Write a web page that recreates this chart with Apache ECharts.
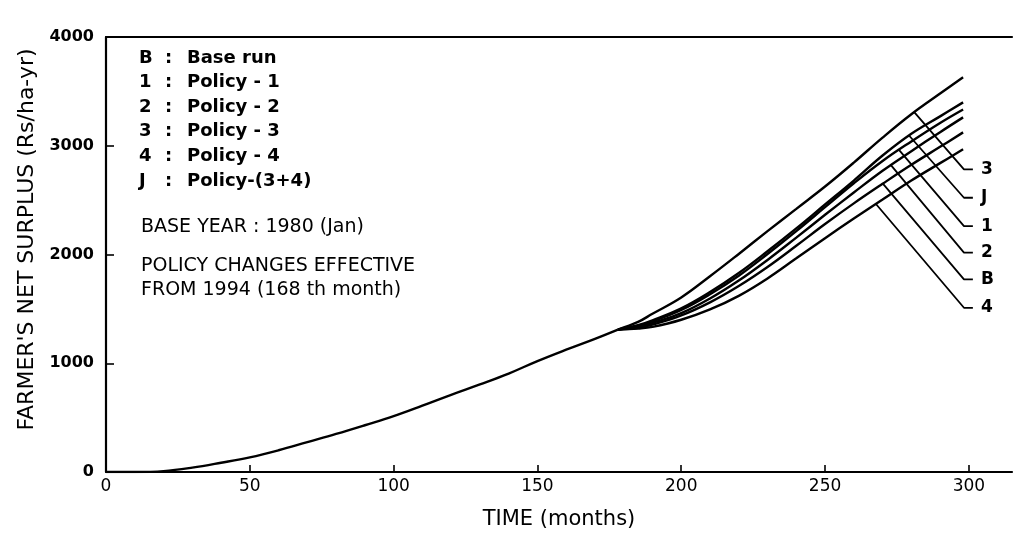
<!DOCTYPE html>
<html>
<head>
<meta charset="utf-8">
<script src="https://cdn.jsdelivr.net/npm/echarts@6/dist/echarts.min.js"></script>
<style>
  html, body { margin: 0; padding: 0; background: #fff; }
  #chart { width: 1017px; height: 535px; }
</style>
</head>
<body>
<div id="chart"></div>
<script>
// ---- data ----
const commonMonths = [0, 10, 20, 30, 40, 50, 60, 70, 80, 90, 100, 110, 120, 130, 140, 150, 160, 170, 178];
const commonValues = [0, 0, 8, 40, 85, 135, 200, 275, 350, 430, 513, 610, 710, 805, 905, 1020, 1125, 1225, 1310];

const branchMonths = [178, 185, 190, 200, 210, 220, 230, 240, 250, 260, 270, 280, 290, 298];
const policy3  = [1310, 1380, 1455, 1605, 1800, 2005, 2215, 2420, 2625, 2845, 3075, 3290, 3480, 3630];
const policyJ  = [1310, 1350, 1395, 1505, 1655, 1830, 2030, 2240, 2460, 2680, 2910, 3110, 3270, 3399];
const policy1  = [1310, 1345, 1385, 1490, 1635, 1805, 2005, 2215, 2435, 2655, 2860, 3040, 3210, 3334];
const policy2  = [1310, 1335, 1370, 1460, 1595, 1760, 1950, 2155, 2365, 2570, 2770, 2950, 3125, 3261];
const baseRun  = [1310, 1325, 1355, 1440, 1560, 1710, 1885, 2080, 2280, 2470, 2650, 2825, 2990, 3123];
const policy4  = [1310, 1320, 1335, 1400, 1495, 1620, 1780, 1965, 2150, 2330, 2505, 2680, 2840, 2967];

// curve labels (top to bottom) and their leader lines
const curveLabels      = ['3', 'J', '1', '2', 'B', '4'];
const curveData        = [policy3, policyJ, policy1, policy2, baseRun, policy4];
const leaderStartMonth = [281.0, 279.2, 275.7, 272.9, 270.1, 267.7];
const leaderEndValue   = [2783, 2522, 2261, 2017, 1771, 1510];
const leaderEndMonth   = 298.3;
const leaderTickMonth  = 301.4;

const xTicks = [0, 50, 100, 150, 200, 250, 300];

const legendKeys  = ['B', '1', '2', '3', '4', 'J'];
const legendDescs = ['Base run', 'Policy - 1', 'Policy - 2', 'Policy - 3', 'Policy - 4', 'Policy-(3+4)'];
const noteLines   = ['BASE YEAR : 1980 (Jan)', 'POLICY CHANGES EFFECTIVE', 'FROM 1994 (168 th month)'];

const xName = 'TIME (months)';
const yName = "FARMER'S NET SURPLUS (Rs/ha-yr)";

// ---- helpers ----
function pairs(xs, ys) { return xs.map((x, i) => [x, ys[i]]); }
function interp(xs, ys, x) {
  for (let i = 0; i < xs.length - 1; i++) {
    if (x >= xs[i] && x <= xs[i + 1]) {
      const t = (x - xs[i]) / (xs[i + 1] - xs[i]);
      return ys[i] + t * (ys[i + 1] - ys[i]);
    }
  }
  return ys[ys.length - 1];
}

const FONT = 'DejaVu Sans';
const lineStyle = { color: '#000', width: 2.4 };

const series = [];
series.push({
  name: 'common', type: 'line', data: pairs(commonMonths, commonValues),
  showSymbol: false, smooth: 0.4, lineStyle: lineStyle, silent: true, z: 3
});
curveData.forEach((vals, i) => {
  series.push({
    name: 'curve ' + curveLabels[i], type: 'line', data: pairs(branchMonths, vals),
    showSymbol: false, smooth: 0.4, lineStyle: lineStyle, silent: true, z: 3
  });
});
curveLabels.forEach((lab, i) => {
  const sm = leaderStartMonth[i];
  const sv = interp(branchMonths, curveData[i], sm);
  series.push({
    name: 'leader ' + lab, type: 'line',
    data: [[sm, sv], [leaderEndMonth, leaderEndValue[i]], [leaderTickMonth, leaderEndValue[i]]],
    showSymbol: false, lineStyle: { color: '#000', width: 1.8 }, silent: true, z: 2,
    endLabel: {
      show: true, formatter: lab, color: '#000', fontFamily: FONT,
      fontWeight: 'bold', fontSize: 17, distance: 8
    }
  });
});

const graphics = [];
legendKeys.forEach((k, i) => {
  const y = 60 + i * 24.6;
  graphics.push({ type: 'text', left: 139, top: y - 11, style: { text: k, font: 'bold 18px "DejaVu Sans"', fill: '#000' } });
  graphics.push({ type: 'text', left: 165, top: y - 11, style: { text: ':', font: 'bold 18px "DejaVu Sans"', fill: '#000' } });
  graphics.push({ type: 'text', left: 187, top: y - 11, style: { text: legendDescs[i], font: 'bold 18px "DejaVu Sans"', fill: '#000' } });
});
const noteY = [229, 268, 292];
noteLines.forEach((t, i) => {
  graphics.push({ type: 'text', left: 141, top: noteY[i] - 11, style: { text: t, font: '19px "DejaVu Sans"', fill: '#000' } });
});

const chart = echarts.init(document.getElementById('chart'), null, { renderer: 'canvas' });
chart.setOption({
  backgroundColor: '#fff',
  animation: false,
  grid: { left: 106, right: 5, top: 37, bottom: 63 },
  xAxis: [{
    type: 'value', min: 0, max: 315,
    name: xName, nameLocation: 'middle', nameGap: 37,
    nameTextStyle: { color: '#000', fontFamily: FONT, fontSize: 21 },
    axisLine: { show: true, lineStyle: { color: '#000', width: 2.2 } },
    axisTick: { show: true, inside: true, length: 7, customValues: xTicks, lineStyle: { color: '#000', width: 1.6 } },
    axisLabel: { show: true, customValues: xTicks, color: '#000', fontFamily: FONT, fontSize: 17, margin: 6 },
    splitLine: { show: false }
  }, {
    type: 'value', min: 0, max: 315, position: 'top',
    axisLine: { show: true, onZero: false, lineStyle: { color: '#000', width: 2.2 } },
    axisTick: { show: false }, axisLabel: { show: false }, splitLine: { show: false }
  }],
  yAxis: {
    type: 'value', min: 0, max: 4000, interval: 1000,
    name: yName, nameLocation: 'middle', nameGap: 68,
    nameTextStyle: { color: '#000', fontFamily: FONT, fontSize: 22, padding: [0, 0, 0, 30] },
    axisLine: { show: true, lineStyle: { color: '#000', width: 2.2 } },
    axisTick: { show: true, inside: true, length: 8, lineStyle: { color: '#000', width: 1.6 } },
    axisLabel: {
      show: true, color: '#000', fontFamily: FONT, fontSize: 16, fontWeight: 'bold', margin: 12,
      formatter: function (v) { return String(v); }
    },
    splitLine: { show: false }
  },
  graphic: graphics,
  series: series
});
</script>
</body>
</html>
